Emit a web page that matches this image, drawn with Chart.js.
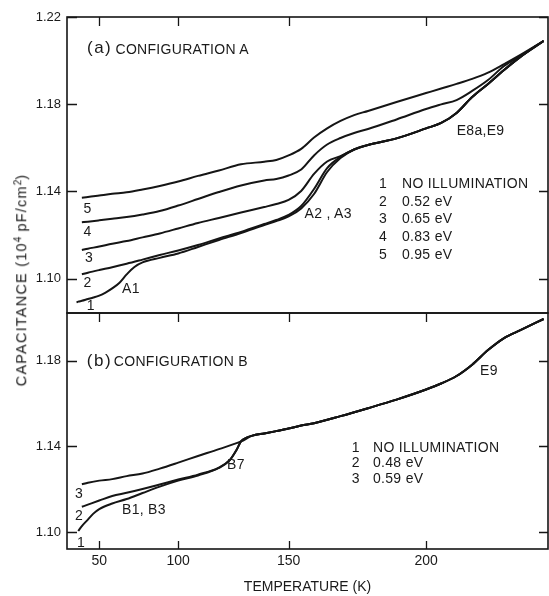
<!DOCTYPE html>
<html>
<head>
<meta charset="utf-8">
<script src="https://cdn.jsdelivr.net/npm/chart.js@4.4.1/dist/chart.umd.min.js"></script>
<style>
  html, body { margin: 0; padding: 0; background: #fff; }
  #wrap { position: relative; width: 549px; height: 596px; overflow: hidden;
          font-family: "Liberation Sans", Arial, sans-serif; color: #1a1a1a; }
  canvas { position: absolute; left: 0; top: 0; }
  .lbl { position: absolute; white-space: nowrap; font-size: 14px; line-height: 1;
         transform: translateY(-50%); letter-spacing: 0.3px; }
  .big { font-size: 17px; letter-spacing: 1.5px; }
  #ytitle { position: absolute; left: 21px; top: 280px; white-space: nowrap;
            font-size: 14.5px; letter-spacing: 1.2px; line-height: 1;
            transform: translate(-50%, -50%) rotate(-90deg); }
  #ytitle sup { font-size: 10px; vertical-align: 5px; letter-spacing: 0; }
</style>
</head>
<body>
<div id="wrap">
  <canvas id="chartA" width="549" height="596"></canvas>
  <canvas id="chartB" width="549" height="596"></canvas>
  <div id="ytitle">CAPACITANCE (10<sup>4</sup> pF/cm<sup>2</sup>)</div>
</div>
<script>
// temperature axis ticks (K) and capacitance ticks (10^4 pF/cm^2)
const X_TICKS = [50, 100, 150, 200];
const Y_TICKS_A = [1.10, 1.14, 1.18, 1.22];
const Y_TICKS_B = [1.10, 1.14, 1.18];

// (a) configuration A
const A1_T = [28, 30, 34, 40, 45, 50, 55, 60, 65, 70, 75, 80, 90, 100, 110, 120, 130, 140, 145, 150, 155, 160, 165, 170];
const A1_C = [1.0891, 1.0894, 1.0898, 1.0906, 1.0913, 1.0922, 1.0936, 1.0955, 1.0980, 1.1019, 1.1053, 1.1074,
              1.1095, 1.1115, 1.1145, 1.1177, 1.1209, 1.1246, 1.1264, 1.1285, 1.1322, 1.1388, 1.1489, 1.1553];
const A_T = [34, 40, 50, 60, 70, 80, 90, 100, 110, 120, 130, 140, 145, 150, 155, 160, 165, 170];
const A2_C = [1.1020, 1.1027, 1.1039, 1.1052, 1.1068, 1.1087, 1.1108, 1.1129, 1.1154, 1.1184, 1.1214, 1.1250, 1.1269, 1.1292, 1.1333, 1.1411, 1.1507, 1.1558];
const A3_C = [1.1131, 1.1137, 1.1147, 1.1160, 1.1172, 1.1189, 1.1207, 1.1230, 1.1255, 1.1278, 1.1303, 1.1328, 1.1342, 1.1361, 1.1402, 1.1480, 1.1537, 1.1562];
const A4_C = [1.1258, 1.1261, 1.1267, 1.1274, 1.1282, 1.1294, 1.1310, 1.1335, 1.1365, 1.1397, 1.1427, 1.1450, 1.1457, 1.1473, 1.1500, 1.1565, 1.1615, 1.1645];
const A5_C = [1.1371, 1.1374, 1.1381, 1.1389, 1.1396, 1.1409, 1.1425, 1.1445, 1.1471, 1.1496, 1.1524, 1.1536, 1.1544, 1.1565, 1.1595, 1.1647, 1.1689, 1.1723];
const A_TAIL_T = [175, 180, 190, 200, 205, 210, 215, 220, 225, 230, 237];
const A123_TAIL_C = [1.1592, 1.1613, 1.1643, 1.1689, 1.1714, 1.1760, 1.1833, 1.1893, 1.1957, 1.2017, 1.2090];
const A4_TAIL_C = [1.1668, 1.1686, 1.1730, 1.1778, 1.1799, 1.1819, 1.1861, 1.1911, 1.1975, 1.2021, 1.2090];
const A5_TAIL_C = [1.1750, 1.1769, 1.1810, 1.1851, 1.1872, 1.1893, 1.1916, 1.1945, 1.1984, 1.2026, 1.2090];

// (b) configuration B
const B1_T = [30, 34, 40, 45, 50, 60, 70, 80, 90, 100, 110, 120, 125, 128, 130];
const B1_C = [1.1005, 1.1028, 1.1058, 1.1086, 1.1107, 1.1133, 1.1154, 1.1182, 1.1212, 1.1240, 1.1264, 1.1299, 1.1336, 1.1383, 1.1423];
const B2_T = [34, 40, 50, 60, 70, 80, 90, 100, 110, 120, 125, 128, 130];
const B2_C = [1.1118, 1.1128, 1.1147, 1.1168, 1.1183, 1.1201, 1.1222, 1.1245, 1.1268, 1.1301, 1.1336, 1.1383, 1.1423];
const B3_T = [34, 40, 50, 60, 70, 80, 90, 100, 110, 120, 130];
const B3_C = [1.1223, 1.1230, 1.1240, 1.1247, 1.1261, 1.1273, 1.1296, 1.1324, 1.1355, 1.1387, 1.1423];
const B_TAIL_T = [135, 140, 145, 150, 155, 160, 170, 180, 190, 200, 205, 210, 215, 220, 225, 230, 237];
const B_TAIL_C = [1.1450, 1.1460, 1.1471, 1.1483, 1.1497, 1.1508, 1.1541, 1.1578, 1.1618, 1.1665, 1.1693, 1.1728, 1.1781, 1.1849, 1.1905, 1.1942, 1.1994];

// the printed temperature axis is not linear, it follows roughly T^1.65
const X_POWER = 1.65;

class PowerScale extends Chart.LinearScale {
  configure() {
    super.configure();
    this._pLo = Math.pow(this.min, X_POWER);
    this._pHi = Math.pow(this.max, X_POWER);
  }
  getPixelForValue(value) {
    return this.getPixelForDecimal((Math.pow(value, X_POWER) - this._pLo) / (this._pHi - this._pLo));
  }
  getValueForPixel(pixel) {
    const d = this.getDecimalForPixel(pixel);
    return Math.pow(this._pLo + d * (this._pHi - this._pLo), 1 / X_POWER);
  }
}
PowerScale.id = 'power';
PowerScale.defaults = {};
Chart.register(PowerScale);

Chart.defaults.font.family = '"Liberation Sans", Arial, sans-serif';
Chart.defaults.color = '#1a1a1a';

function pts(ts, cs) {
  return ts.map((t, i) => ({ x: t, y: cs[i] }));
}

function curve(data) {
  return {
    data: data,
    borderColor: '#151515',
    borderWidth: 2,
    pointRadius: 0,
    fill: false,
    cubicInterpolationMode: 'monotone'
  };
}

// frame and inward tick marks
const frameTicks = {
  id: 'frameTicks',
  afterDraw(chart, args, opts) {
    const { ctx, chartArea: a, scales } = chart;
    ctx.save();
    ctx.strokeStyle = '#151515';
    ctx.lineWidth = 1.6;
    ctx.strokeRect(a.left, a.top, a.right - a.left, a.bottom - a.top);
    ctx.lineWidth = 1.3;
    ctx.beginPath();
    X_TICKS.forEach(v => {
      const px = Math.round(scales.x.getPixelForValue(v)) + 0.5;
      if (opts.top) { ctx.moveTo(px, a.top); ctx.lineTo(px, a.top + 9); }
      if (opts.bottom) { ctx.moveTo(px, a.bottom); ctx.lineTo(px, a.bottom - 8); }
    });
    opts.yTicks.forEach(v => {
      const py = Math.round(scales.y.getPixelForValue(v)) + 0.5;
      ctx.moveTo(a.left, py); ctx.lineTo(a.left + 10, py);
      ctx.moveTo(a.right, py); ctx.lineTo(a.right - 9, py);
    });
    ctx.stroke();
    ctx.restore();
  }
};

function yAxis(min, max, ticks) {
  return {
    min: min, max: max,
    afterFit: s => { s.width = 67; },
    afterBuildTicks: s => { s.ticks = ticks.map(v => ({ value: v })); },
    grid: { display: false, drawTicks: false },
    border: { display: false },
    ticks: { autoSkip: false, padding: 6, font: { size: 13 }, callback: v => v.toFixed(2) }
  };
}

function xAxis(showLabels) {
  return {
    type: 'power',
    min: 14.3, max: 238.3,
    display: showLabels,
    afterFit: s => { s.height = showLabels ? 47 : 0; },
    afterBuildTicks: s => { s.ticks = X_TICKS.map(v => ({ value: v })); },
    grid: { display: false, drawTicks: false },
    border: { display: false },
    ticks: { autoSkip: false, maxRotation: 0, padding: 4, font: { size: 14 }, callback: v => String(v) },
    title: { display: true, text: 'TEMPERATURE (K)', font: { size: 14 }, padding: { top: 0, bottom: 0 } }
  };
}

const common = {
  responsive: false,
  animation: false,
  events: [],
  plugins: { legend: { display: false }, tooltip: { enabled: false } }
};

new Chart(document.getElementById('chartA'), {
  type: 'line',
  data: {
    datasets: [
      curve(pts(A1_T.concat(A_TAIL_T), A1_C.concat(A123_TAIL_C))),
      curve(pts(A_T.concat(A_TAIL_T), A2_C.concat(A123_TAIL_C))),
      curve(pts(A_T.concat(A_TAIL_T), A3_C.concat(A123_TAIL_C))),
      curve(pts(A_T.concat(A_TAIL_T), A4_C.concat(A4_TAIL_C))),
      curve(pts(A_T.concat(A_TAIL_T), A5_C.concat(A5_TAIL_C)))
    ]
  },
  options: Object.assign({}, common, {
    layout: { padding: { left: 0, right: 1, top: 17, bottom: 283 } },
    scales: { x: xAxis(false), y: yAxis(1.0842, 1.22, Y_TICKS_A) },
    plugins: Object.assign({}, common.plugins, { frameTicks: { top: true, bottom: false, yTicks: Y_TICKS_A } })
  }),
  plugins: [frameTicks]
});

new Chart(document.getElementById('chartB'), {
  type: 'line',
  data: {
    datasets: [
      curve(pts(B1_T.concat(B_TAIL_T), B1_C.concat(B_TAIL_C))),
      curve(pts(B2_T.concat(B_TAIL_T), B2_C.concat(B_TAIL_C))),
      curve(pts(B3_T.concat(B_TAIL_T), B3_C.concat(B_TAIL_C)))
    ]
  },
  options: Object.assign({}, common, {
    layout: { padding: { left: 0, right: 1, top: 313, bottom: 0 } },
    scales: { x: xAxis(true), y: yAxis(1.0921, 1.2022, Y_TICKS_B) },
    plugins: Object.assign({}, common.plugins, { frameTicks: { top: true, bottom: true, yTicks: Y_TICKS_B } })
  }),
  plugins: [frameTicks]
});

// text written on the figure
const labels = [
  ['(a)', 87, 47, 'big'], ['CONFIGURATION A', 115.5, 48.5, ''],
  ['5', 83.5, 207.7, ''], ['4', 83.5, 231, ''], ['3', 85, 257.3, ''], ['2', 83.5, 281.7, ''], ['1', 86.8, 305, ''],
  ['A1', 122, 288.3, ''], ['A2 , A3', 304.6, 212.5, ''], ['E8a,E9', 456.7, 130, ''],
  ['1', 379, 182.7, ''], ['NO ILLUMINATION', 402, 182.7, ''],
  ['2', 379, 200.7, ''], ['0.52 eV', 402, 200.7, ''],
  ['3', 379, 218.3, ''], ['0.65 eV', 402, 218.3, ''],
  ['4', 379, 236, ''], ['0.83 eV', 402, 236, ''],
  ['5', 379, 254, ''], ['0.95 eV', 402, 254, ''],
  ['(b)', 86.8, 360, 'big'], ['CONFIGURATION B', 113.8, 361, ''],
  ['3', 75, 493.3, ''], ['2', 75, 515, ''], ['1', 77, 541.7, ''],
  ['B1, B3', 122, 508.5, ''], ['B7', 227, 464, ''], ['E9', 480, 370, ''],
  ['1', 351.7, 446.7, ''], ['NO ILLUMINATION', 373, 446.7, ''],
  ['2', 351.7, 461.7, ''], ['0.48 eV', 373, 461.7, ''],
  ['3', 351.7, 477.5, ''], ['0.59 eV', 373, 477.5, '']
];
const wrap = document.getElementById('wrap');
labels.forEach(([text, x, y, cls]) => {
  const d = document.createElement('div');
  d.className = 'lbl ' + cls;
  d.textContent = text;
  d.style.left = x + 'px';
  d.style.top = y + 'px';
  wrap.appendChild(d);
});
</script>
</body>
</html>
